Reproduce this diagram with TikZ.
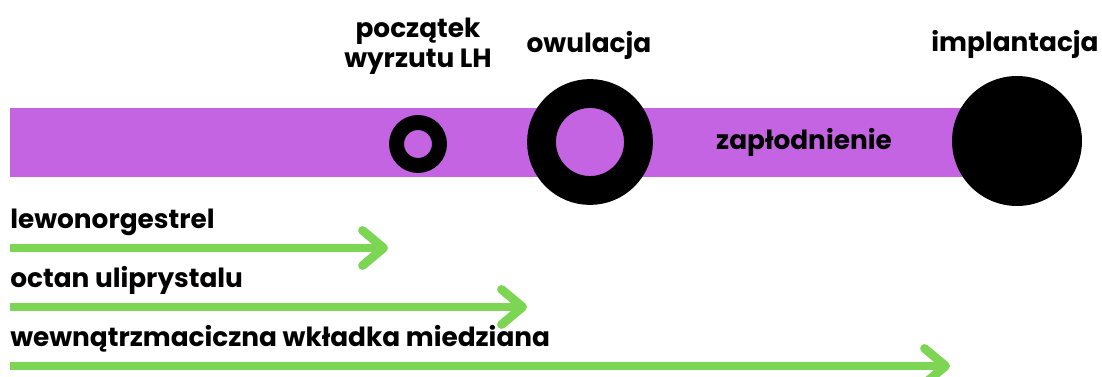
\documentclass[tikz,border=0pt]{standalone}
\usepackage{fontspec}
\setmainfont{Poppins}
\usetikzlibrary{arrows.meta}
\definecolor{phase}{RGB}{196,100,226}
\definecolor{drug}{RGB}{124,214,84}

\begin{document}
\begin{tikzpicture}[x=0.02cm, y=-0.02cm,
			lbl/.style={font=\fontsize{15}{17.6}\selectfont\bfseries, inner sep=0pt},
			ring/.style={circle, draw=black, inner sep=0pt},
			drugline/.style={draw=drug, line width=5pt,
				-{Straight Barb[round, length=12pt, width=20pt]}}]
	\useasboundingbox (0,0) rectangle (1102,377);
	% cycle bar with the three events
	\fill[phase] (10,108) rectangle (1017,177);
	\node[ring, line width=8.5pt, minimum size=0.86cm] (lh) at (418,144) {};
	\node[ring, line width=16.4pt, minimum size=1.94cm] (ov) at (590,142) {};
	\node[circle, fill=black, inner sep=0pt, minimum size=2.6cm] (im) at (1017,141) {};
	\node[lbl, align=center, anchor=base] (lhtxt) at (418,68) {początek\\wyrzutu LH};
	\node[lbl, anchor=base] (ovtxt) at (589,53) {owulacja};
	\node[lbl, anchor=base] (imtxt) at (1015,52) {implantacja};
	\node[lbl, anchor=base] (fert) at (804,150) {zapłodnienie};
	% how far each method reaches
	\node[lbl, anchor=base west] (lng) at (10,229) {lewonorgestrel};
	\node[lbl, anchor=base west] (upa) at (10,288) {octan uliprystalu};
	\node[lbl, anchor=base west] (iud) at (10,347) {wewnątrzmaciczna wkładka miedziana};
	\coordinate (lng0) at (10,248);
	\coordinate (lng1) at (388,248);
	\coordinate (upa0) at (10,307);
	\coordinate (upa1) at (527,307);
	\coordinate (iud0) at (10,366);
	\coordinate (iud1) at (950,366);
	\draw[drugline] (lng0) -- (lng1);
	\draw[drugline] (upa0) -- (upa1);
	\draw[drugline] (iud0) -- (iud1);
\end{tikzpicture}
\end{document}
